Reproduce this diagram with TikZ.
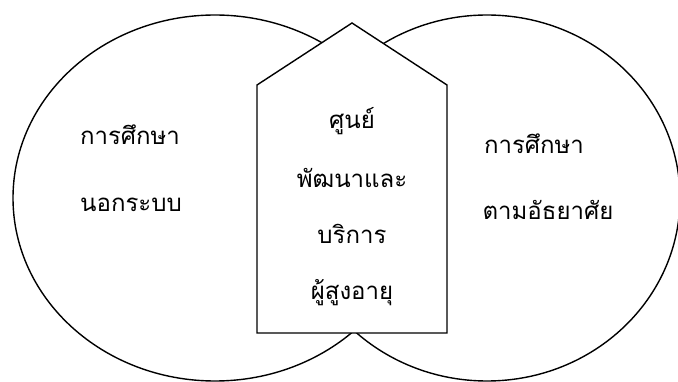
\documentclass[tikz,border=0pt]{standalone}
\usepackage{fontspec}
\newfontfamily\thaifont[Script=Thai]{Loma}
\usetikzlibrary{positioning}

\begin{document}
\begin{tikzpicture}[x=1pt,y=-1pt,line width=1.4pt,
  thaitext/.style={anchor=base,inner sep=0pt,font=\thaifont\fontsize{24}{24}\selectfont}]
\useasboundingbox (0,0) rectangle (678,382);
% two overlapping circles
\draw (215,198) ellipse [x radius=202,y radius=183];
\draw (487,198) ellipse [x radius=193,y radius=183];
% house shape in the middle
\draw[fill=white] (257,333) -- (257,85) -- (352,23) -- (447,85) -- (447,333) -- cycle;
% texts
\node[thaitext] (left1) at (130,145) {การศึกษา};
\node[thaitext] (left2) at (131,212) {นอกระบบ};
\foreach \i/\txt/\yy in {0/ศูนย์/129, 1/พัฒนาและ/188, 2/บริการ/244, 3/ผู้สูงอายุ/300} {
  \node[thaitext] (mid\i) at (352,\yy) {\txt};
}
\node[thaitext] (right1) at (534,154) {การศึกษา};
\node[thaitext] (right2) at (548,220) {ตามอัธยาศัย};
\end{tikzpicture}
\end{document}
